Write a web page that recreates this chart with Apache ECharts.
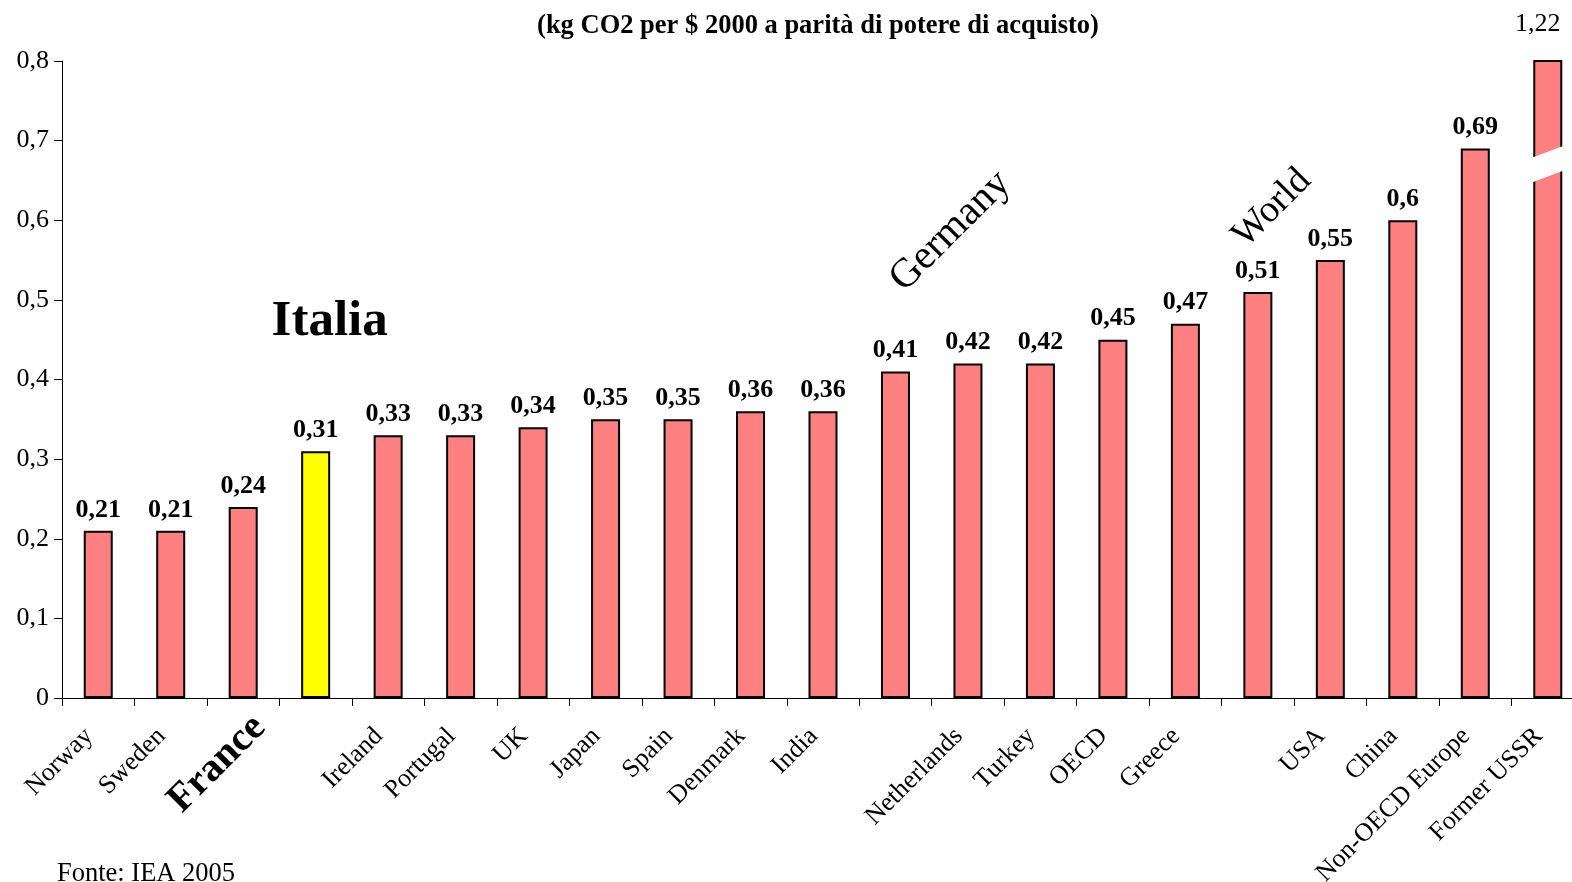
<!DOCTYPE html>
<html>
<head>
<meta charset="utf-8">
<script src="https://cdn.jsdelivr.net/npm/echarts@6/dist/echarts.min.js"></script>
<style>
html,body{margin:0;padding:0;background:#fff;overflow:hidden;width:1572px;height:882px;}
#main{width:1592px;height:882px;}
</style>
</head>
<body>
<div id="main"></div>
<script>
const categories = ['Norway','Sweden','France','Italia','Ireland','Portugal','UK','Japan','Spain','Denmark','India','Germany','Netherlands','Turkey','OECD','Greece','World','USA','China','Non-OECD Europe','Former USSR'];
const values = [0.21,0.21,0.24,0.31,0.33,0.33,0.34,0.35,0.35,0.36,0.36,0.41,0.42,0.42,0.45,0.47,0.51,0.55,0.6,0.69,1.22];
const yTicks = [0,0.1,0.2,0.3,0.4,0.5,0.6,0.7,0.8];
const highlighted = 'Italia';
const hiddenAxisLabels = ['Italia','Germany','World','France'];
const boldLabel = 'France';
const clippedCategory = 'Former USSR';

const FONT = '"Liberation Serif","Times New Roman",serif';
const fmt = v => String(+v.toFixed(2)).replace('.', ',');

const chart = echarts.init(document.getElementById('main'), null, {renderer:'canvas'});

const barData = values.map((v,i) => {
  const c = categories[i];
  const item = {value: v};
  if (c === highlighted) item.itemStyle = {color:'#FFFF00'};
  if (c === clippedCategory) item.label = {show:false};
  return item;
});

chart.setOption({
  animation:false,
  backgroundColor:'#fff',
  grid:{left:62, width:1522, top:61, bottom:184, containLabel:false, outerBoundsMode:'none'},
  xAxis:{
    type:'category',
    data:categories,
    boundaryGap:true,
    axisLine:{lineStyle:{color:'#000', width:1}},
    axisTick:{show:true, length:8, lineStyle:{color:'#000'}},
    axisLabel:{
      interval:0, rotate:45, margin:25, padding:[0,13,0,0],
      fontFamily:FONT, fontSize:26, color:'#000',
      formatter: v => hiddenAxisLabels.includes(v) ? '' : v
    }
  },
  yAxis:{
    type:'value', min:0, max:0.8, interval:0.1,
    axisLine:{show:true, lineStyle:{color:'#000', width:1}},
    axisTick:{show:true, length:8, lineStyle:{color:'#000'}},
    splitLine:{show:false},
    axisLabel:{margin:13, fontFamily:FONT, fontSize:26, color:'#000', formatter: v => fmt(v)}
  },
  series:[{
    type:'bar',
    data:barData,
    barWidth:29,
    clip:true,
    itemStyle:{color:'#FF8080', borderColor:'#000', borderWidth:2},
    label:{show:true, position:'top', distance:8, fontFamily:FONT, fontSize:26, fontWeight:'bold', color:'#000', formatter: p => fmt(p.value)}
  }]
});

// annotations positioned through the chart's scales
const px = (cat, val) => chart.convertToPixel({xAxisIndex:0, yAxisIndex:0}, [cat, val]);
const lastIdx = categories.indexOf(clippedCategory);
const lastTop = px(clippedCategory, 0.8);
const bTop = px(clippedCategory, 0.686);
const bBot = px(clippedCategory, 0.655);
const s = 12/32;
const hw = 24;
const italia = px('Italia', 0.5);
const germany = px('Germany', 0.6);
const world = px('World', 0.6);
const france = px(boldLabel, 0);

chart.setOption({
  graphic:[
    {type:'polygon', z:100, shape:{points:[
      [bTop[0]-hw, bTop[1]+hw*s],[bTop[0]+hw, bTop[1]-hw*s],
      [bBot[0]+hw, bBot[1]-hw*s],[bBot[0]-hw, bBot[1]+hw*s]]},
      style:{fill:'#fff', stroke:null}},
    {type:'text', z:100, x:lastTop[0]-10, y:24, style:{text:fmt(values[lastIdx]), font:'26px '+FONT, fill:'#000', textAlign:'center', textVerticalAlign:'middle'}},
    {type:'text', z:100, x:818, y:26, style:{text:'(kg CO2 per $ 2000 a parità di potere di acquisto)', font:'bold 26.5px '+FONT, fill:'#000', textAlign:'center', textVerticalAlign:'middle'}},
    {type:'text', z:100, x:italia[0]+14, y:italia[1]+22, style:{text:'Italia', font:'bold 51px '+FONT, fill:'#000', textAlign:'center', textVerticalAlign:'middle'}},
    {type:'text', z:100, x:germany[0]+55, y:germany[1]+11, rotation:Math.PI/4, style:{text:'Germany', font:'41px '+FONT, fill:'#000', textAlign:'center', textVerticalAlign:'middle'}},
    {type:'text', z:100, x:world[0]+14, y:world[1]-12, rotation:Math.PI/4, style:{text:'World', font:'38px '+FONT, fill:'#000', textAlign:'center', textVerticalAlign:'middle'}},
    {type:'text', z:100, x:france[0]-26, y:france[1]+66, rotation:Math.PI/4, style:{text:boldLabel, font:'bold 40px '+FONT, fill:'#000', textAlign:'center', textVerticalAlign:'middle'}},
    {type:'text', z:100, x:57, y:861, style:{text:'Fonte: IEA 2005', font:'26.5px '+FONT, fill:'#000', textAlign:'left', textVerticalAlign:'top'}}
  ]
});
</script>
</body>
</html>
